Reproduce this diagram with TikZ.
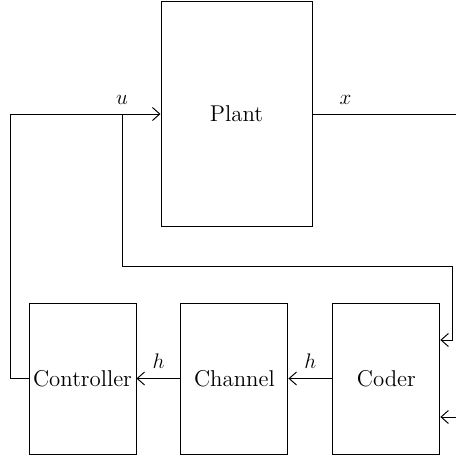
\documentclass[tikz,border=0pt]{standalone}
\usetikzlibrary{positioning,arrows.meta}

\tikzset{txt/.style={font=\fontsize{13}{15}\selectfont}}
\tikzset{blk/.style={txt, draw, rectangle, inner sep=0pt, minimum width=2.14cm, minimum height=3.02cm}}

\begin{document}
\begin{tikzpicture}[x=0.02cm,y=0.02cm,node distance={0.88cm},line width=0.55pt,>={Straight Barb[length=4.2pt,width=7.4pt]}]
    \useasboundingbox (0,0) rectangle (456,458);

    \node[blk, minimum width=3.02cm, minimum height=4.5cm] (plant) at (236.5,344) {Plant};

    \node[blk] (ctrl) at (82.5,79.5) {Controller};
    \node[blk] (chan) [right=of ctrl] {Channel};
    \node[blk] (coder) [right=of chan] {Coder};

    \coordinate (fb) at (10,0);
    \coordinate (tap) at (122,192);
    \coordinate (rt) at (452,118);
    \coordinate (xout) at (456,0);
    \coordinate (cin) at (456,41);

    \draw[->] (ctrl.west) -- (ctrl.west -| fb) |- (plant.west);
    \draw[->] (plant.west -| tap) -- (tap) -| (rt) -- (coder.east |- rt);
    \draw (plant.east) -- (plant.east -| xout) node[txt, pos=0.23, above=2pt] (xl) {$x$};
    \draw[->] (cin) -- (coder.east |- cin);

    \draw[->] (coder) -- (chan) node[txt, midway, above=2pt] (h2) {$h$};
    \draw[->] (chan) -- (ctrl) node[txt, midway, above=2pt] (h1) {$h$};

    \node[txt, above=2pt] (ul) at (plant.west -| tap) {$u$};
\end{tikzpicture}
\end{document}
